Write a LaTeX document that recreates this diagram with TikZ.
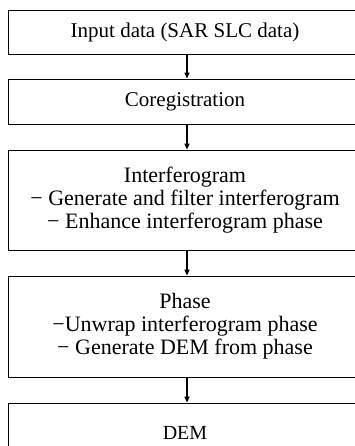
\documentclass[tikz,border=0pt]{standalone}
\usepackage{fontspec}
\setmainfont{Liberation Serif}
\usetikzlibrary{arrows.meta}
\begin{document}
\begin{tikzpicture}[x=1pt,y=-1pt,
  box/.style={draw, line width=0.8pt, minimum width=354pt, inner sep=0pt, align=center},
  small/.style={font=\fontsize{21}{23}\selectfont},
  big/.style={font=\fontsize{22}{23}\selectfont},
  flow/.style={-{Triangle[length=6pt,width=5pt]}, line width=1.4pt}]
\useasboundingbox (0,0) rectangle (355,446);
\clip (0,0) rectangle (355,446);
\node[box, small, minimum height=44pt] (b1) at (185,32) {Input data (SAR SLC data)};
\node[box, small, minimum height=45pt] (b2) at (185,101.5) {Coregistration};
\node[box, big, minimum height=100pt] (b3) at (185,200) {Interferogram\\ − Generate and filter interferogram\\ − Enhance interferogram phase};
\node[box, big, minimum height=101pt] (b4) at (185,326.5) {Phase\\ −Unwrap interferogram phase\\ − Generate DEM from phase};
\node[box, font=\fontsize{20}{23}\selectfont, minimum height=60pt] (b5) at (185,433) {DEM};
\draw[flow] ([xshift=2pt]b1.south) -- ([xshift=2pt]b2.north);
\draw[flow] ([xshift=2pt]b2.south) -- ([xshift=2pt]b3.north);
\draw[flow] ([xshift=2pt]b3.south) -- ([xshift=2pt]b4.north);
\draw[flow] ([xshift=2pt]b4.south) -- ([xshift=2pt]b5.north);
\end{tikzpicture}
\end{document}
